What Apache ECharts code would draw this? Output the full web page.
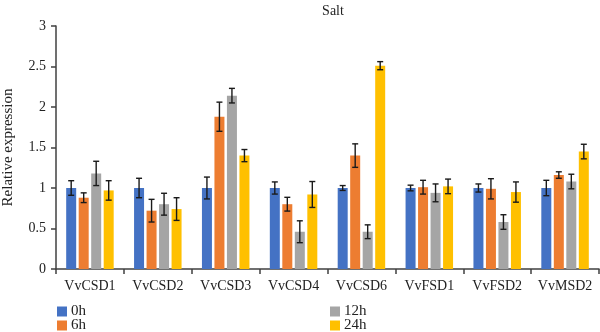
<!DOCTYPE html>
<html>
<head>
<meta charset="utf-8">
<script src="https://cdn.jsdelivr.net/npm/echarts@6/dist/echarts.min.js"></script>
<style>
  html, body { margin: 0; padding: 0; background: #fff; }
  #chart { width: 600px; height: 332px; }
</style>
</head>
<body>
<div id="chart"></div>
<script>
// Relative expression of SOD genes under salt treatment
const categories = ['VvCSD1', 'VvCSD2', 'VvCSD3', 'VvCSD4', 'VvCSD6', 'VvFSD1', 'VvFSD2', 'VvMSD2'];
const seriesNames = ['0h', '6h', '12h', '24h'];

const mean0h  = [1.00, 1.00, 1.00, 1.00, 1.00, 1.00, 1.00, 1.00];
const mean6h  = [0.88, 0.72, 1.88, 0.80, 1.40, 1.01, 0.99, 1.16];
const mean12h = [1.18, 0.80, 2.14, 0.46, 0.46, 0.94, 0.58, 1.08];
const mean24h = [0.97, 0.74, 1.40, 0.92, 2.51, 1.02, 0.95, 1.45];

const err0h  = [0.09, 0.12, 0.135, 0.075, 0.03, 0.035, 0.05, 0.095];
const err6h  = [0.06, 0.14, 0.18, 0.085, 0.145, 0.085, 0.125, 0.04];
const err12h = [0.15, 0.135, 0.09, 0.135, 0.085, 0.11, 0.09, 0.09];
const err24h = [0.12, 0.14, 0.075, 0.16, 0.05, 0.09, 0.125, 0.09];

const yTicks = ['0', '0.5', '1', '1.5', '2', '2.5', '3'];

const means = [mean0h, mean6h, mean12h, mean24h];
const errs = [err0h, err6h, err12h, err24h];
const colors = ['#4472C4', '#ED7D31', '#A5A5A5', '#FFC000'];

const BAR_W = 10;
const BAR_GAP = 0.25;
const FONT = '"Liberation Serif", "DejaVu Serif", serif';

const barSeries = seriesNames.map((name, i) => ({
  name: name,
  type: 'bar',
  data: means[i],
  barWidth: BAR_W,
  barGap: (BAR_GAP * 100) + '%',
  itemStyle: { color: colors[i] },
  z: 2
}));

// Error bars: one custom series per time point, offset to sit on its bar
const errorSeries = seriesNames.map((name, i) => ({
  type: 'custom',
  name: name + ' err',
  data: categories.map((c, k) => [k, means[i][k] - errs[i][k], means[i][k] + errs[i][k]]),
  encode: { x: 0, y: [1, 2] },
  z: 5,
  silent: true,
  renderItem: function (params, api) {
    const k = api.value(0);
    const lo = api.coord([k, api.value(1)]);
    const hi = api.coord([k, api.value(2)]);
    const step = BAR_W * (1 + BAR_GAP);
    const x = lo[0] + (i - (seriesNames.length - 1) / 2) * step;
    const cap = 3;
    const style = { stroke: '#1a1a1a', lineWidth: 1.4 };
    return {
      type: 'group',
      children: [
        { type: 'line', shape: { x1: x, y1: hi[1], x2: x, y2: lo[1] }, style: style },
        { type: 'line', shape: { x1: x - cap, y1: hi[1], x2: x + cap, y2: hi[1] }, style: style },
        { type: 'line', shape: { x1: x - cap, y1: lo[1], x2: x + cap, y2: lo[1] }, style: style }
      ]
    };
  }
}));

// Legend: two columns of two entries each
const legendSlots = [
  { name: '0h', left: 57, top: 304 },
  { name: '6h', left: 57, top: 318 },
  { name: '12h', left: 330, top: 304 },
  { name: '24h', left: 330, top: 318 }
];
const legends = legendSlots.map(s => ({
  data: [s.name],
  left: s.left,
  top: s.top,
  itemWidth: 10,
  itemHeight: 10,
  icon: 'rect',
  padding: 0,
  textStyle: { fontFamily: FONT, fontSize: 15, color: '#222', padding: [0, 0, 0, -1] }
}));

const chart = echarts.init(document.getElementById('chart'), null, { renderer: 'canvas' });
chart.setOption({
  animation: false,
  backgroundColor: '#fff',
  title: {
    text: 'Salt',
    left: 328,
    textAlign: 'center',
    top: -1,
    textStyle: { fontFamily: FONT, fontSize: 14, fontWeight: 'normal', color: '#222' }
  },
  legend: legends,
  grid: { left: 56, right: 1, top: 26, bottom: 63, containLabel: false, outerBoundsMode: 'none' },
  xAxis: {
    type: 'category',
    data: categories,
    axisLine: { lineStyle: { color: '#404040', width: 1.5 } },
    axisTick: { show: true, length: 5, lineStyle: { color: '#404040', width: 1.5 } },
    axisLabel: { interval: 0, fontFamily: FONT, fontSize: 14, color: '#222', margin: 10 }
  },
  yAxis: {
    type: 'value',
    min: 0,
    max: 3,
    interval: 0.5,
    name: 'Relative expression',
    nameLocation: 'middle',
    nameGap: 40,
    nameTextStyle: { fontFamily: FONT, fontSize: 15, color: '#222' },
    splitLine: { show: false },
    axisLine: { show: true, lineStyle: { color: '#404040', width: 1.5 } },
    axisTick: { show: true, length: 5, lineStyle: { color: '#404040', width: 1.5 } },
    axisLabel: {
      fontFamily: FONT, fontSize: 14, color: '#222', margin: 10,
      formatter: function (v) { return yTicks[Math.round(v / 0.5)]; }
    }
  },
  series: barSeries.concat(errorSeries)
});
</script>
</body>
</html>
